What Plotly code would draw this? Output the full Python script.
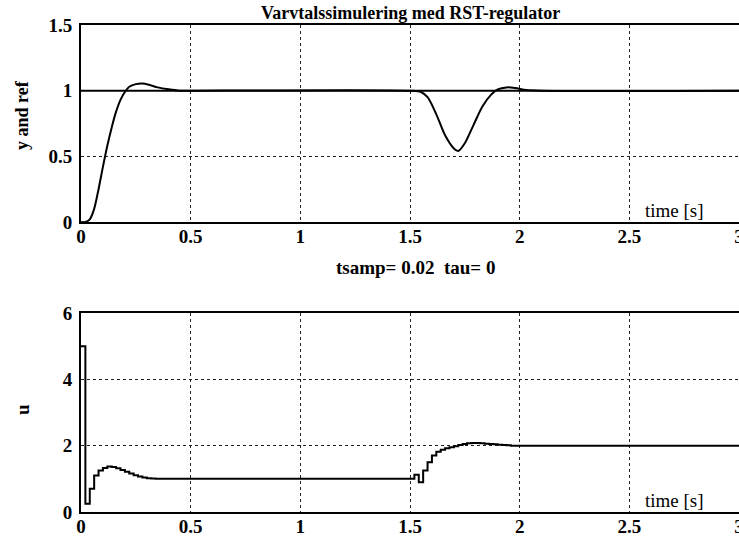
import plotly.graph_objects as go

# Speed-control simulation with an RST controller (sampling 0.02 s)
t_y = [0.0, 0.02, 0.04, 0.06, 0.08, 0.10, 0.12, 0.14, 0.16, 0.18, 0.20, 0.22,
       0.25, 0.28, 0.31, 0.35, 0.40, 0.45, 0.50, 1.50, 1.55, 1.58, 1.62, 1.66,
       1.70, 1.72, 1.75, 1.79, 1.83, 1.87, 1.90, 1.94, 1.98, 2.03, 2.10, 3.0]
y_out = [0.0, 0.0, 0.02, 0.10, 0.25, 0.42, 0.58, 0.72, 0.84, 0.93, 0.99, 1.03,
         1.05, 1.055, 1.045, 1.025, 1.01, 1.0, 1.0, 1.0, 0.99, 0.95, 0.82, 0.66,
         0.56, 0.54, 0.60, 0.74, 0.88, 0.97, 1.01, 1.025, 1.02, 1.005, 1.0, 1.0]

t_ref = [0.0, 3.0]
ref = [1.0, 1.0]

t_u = [0.0, 0.02, 0.04, 0.06, 0.08, 0.10, 0.12, 0.14, 0.16, 0.18, 0.20, 0.22,
       0.24, 0.26, 0.28, 0.30, 0.32, 0.34, 1.50, 1.52, 1.54, 1.56, 1.58, 1.60,
       1.62, 1.64, 1.66, 1.68, 1.70, 1.72, 1.74, 1.76, 1.78, 1.80, 1.82, 1.84,
       1.86, 1.88, 1.90, 1.92, 1.94, 1.96, 2.00, 3.0]
u_ctrl = [5.0, 0.25, 0.70, 1.10, 1.25, 1.33, 1.37, 1.36, 1.32, 1.27, 1.21, 1.16,
          1.11, 1.07, 1.04, 1.02, 1.01, 1.0, 1.0, 1.12, 0.90, 1.25, 1.50, 1.70,
          1.82, 1.88, 1.92, 1.95, 1.98, 2.02, 2.05, 2.07, 2.08, 2.08, 2.07, 2.06,
          2.05, 2.04, 2.03, 2.02, 2.01, 2.0, 2.0, 2.0]

x_ticks = [0, 0.5, 1, 1.5, 2, 2.5, 3]
x_ticktext = ["0", "0.5", "1", "1.5", "2", "2.5", "3"]
y1_ticks = [0, 0.5, 1, 1.5]
y1_ticktext = ["0", "0.5", "1", "1.5"]
y2_ticks = [0, 2, 4, 6]
y2_ticktext = ["0", "2", "4", "6"]

SERIF = "Liberation Serif, Times New Roman, serif"
W, H = 739, 538

fig = go.Figure()
fig.add_trace(go.Scatter(x=t_ref, y=ref, mode="lines",
                         line=dict(color="black", width=2),
                         xaxis="x", yaxis="y", showlegend=False))
fig.add_trace(go.Scatter(x=t_y, y=y_out, mode="lines",
                         line=dict(color="black", width=2, shape="spline", smoothing=0.8),
                         xaxis="x", yaxis="y", showlegend=False))
fig.add_trace(go.Scatter(x=t_u, y=u_ctrl, mode="lines",
                         line=dict(color="black", width=2, shape="hv"),
                         xaxis="x2", yaxis="y2", showlegend=False))

tick_font = dict(family=SERIF, size=19, color="black", weight="bold")
grid = dict(showgrid=True, gridcolor="#222", griddash="dot", gridwidth=1.2)
common_x = dict(range=[0, 3], tickvals=x_ticks, ticktext=x_ticktext, **grid,
                showline=True, linecolor="black", linewidth=2, mirror=True,
                zeroline=False, ticks="", tickfont=tick_font, automargin=False,
                ticklabeloverflow="allow", ticklabelstandoff=-4, domain=[81 / W, 1.0])
common_y = dict(**grid, showline=True, linecolor="black", linewidth=2, mirror=False,
                zeroline=False, ticks="", tickfont=tick_font, automargin=False,
                ticklabelstandoff=3)

fig.update_layout(
    width=W, height=H,
    margin=dict(l=0, r=0, t=0, b=0, autoexpand=False),
    paper_bgcolor="white", plot_bgcolor="white",
    xaxis=dict(**common_x, anchor="y"),
    yaxis=dict(**common_y, range=[0, 1.5], tickvals=y1_ticks, ticktext=y1_ticktext,
               domain=[1 - 222 / H, 1 - 25 / H], anchor="x"),
    xaxis2=dict(**common_x, anchor="y2"),
    yaxis2=dict(**common_y, range=[0, 6], tickvals=y2_ticks, ticktext=y2_ticktext,
                domain=[1 - 512 / H, 1 - 313 / H], anchor="x2"),
    font=dict(family=SERIF, color="black"),
)

serif = dict(family=SERIF, color="black")
centered = dict(xref="paper", yref="paper", xanchor="center", yanchor="middle", showarrow=False)
fig.add_annotation(text="Varvtalssimulering med RST-regulator", x=410 / W, y=1 - 13 / H,
                   font=dict(**serif, size=18, weight="bold"), **centered)
fig.add_annotation(text="tsamp= 0.02  tau= 0", x=415 / W, y=1 - 267 / H,
                   font=dict(**serif, size=19, weight="bold"), **centered)
fig.add_annotation(text="y and ref", x=22 / W, y=1 - 115 / H, textangle=-90,
                   font=dict(**serif, size=18, weight="bold"), **centered)
fig.add_annotation(text="u", x=22 / W, y=1 - 410 / H, textangle=-90,
                   font=dict(**serif, size=19, weight="bold"), **centered)
fig.add_annotation(text="time [s]", x=674 / W, y=1 - 210 / H,
                   font=dict(**serif, size=19), **centered)
fig.add_annotation(text="time [s]", x=674 / W, y=1 - 501 / H,
                   font=dict(**serif, size=19), **centered)

fig.write_html("out.html")
